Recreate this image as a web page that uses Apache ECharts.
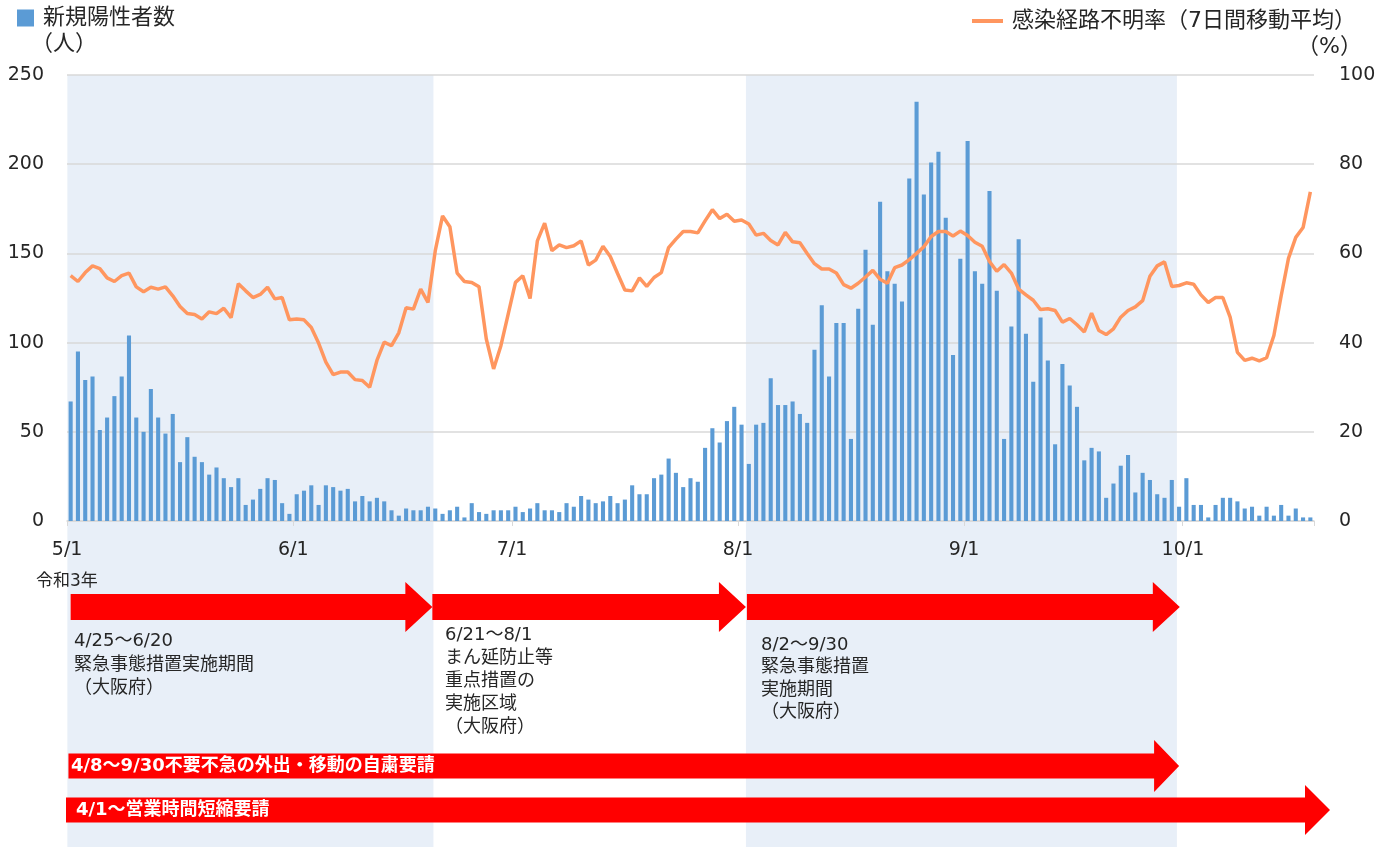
<!DOCTYPE html>
<html lang="ja">
<head>
<meta charset="utf-8">
<title>新規陽性者数と感染経路不明率</title>
<script src="https://cdn.jsdelivr.net/npm/echarts@6.0.0/dist/echarts.min.js"></script>
<style>
  html, body { margin: 0; padding: 0; background: #fff; }
  #chart { width: 1388px; height: 847px; }
</style>
</head>
<body>
<div id="chart"></div>
<script>
// 新規陽性者数（人）日別
const casesMay = [67, 95, 79, 81, 51, 58, 70, 81, 104, 58, 50, 74, 58, 49, 60, 33, 47, 36, 33, 26, 30, 24, 19, 24, 9, 12, 18, 24, 23, 10, 4];
const casesJun = [15, 17, 20, 9, 20, 19, 17, 18, 11, 14, 11, 13, 11, 6, 3, 7, 6, 6, 8, 7, 4, 6, 8, 2, 10, 5, 4, 6, 6, 6];
const casesJul = [8, 5, 7, 10, 6, 6, 5, 10, 8, 14, 12, 10, 11, 14, 10, 12, 20, 15, 15, 24, 26, 35, 27, 19, 24, 22, 41, 52, 44, 56, 64];
const casesAug = [54, 32, 54, 55, 80, 65, 65, 67, 60, 55, 96, 121, 81, 111, 111, 46, 119, 152, 110, 179, 140, 133, 123, 192, 235, 183, 201, 207, 170, 93, 147];
const casesSep = [213, 140, 133, 185, 129, 46, 109, 158, 105, 78, 114, 90, 43, 88, 76, 64, 34, 41, 39, 13, 21, 31, 37, 16, 27, 23, 15, 13, 23, 8];
const casesOct = [24, 9, 9, 2, 9, 13, 13, 11, 7, 8, 3, 8, 3, 9, 3, 7, 2, 2];

// 感染経路不明率（7日間移動平均, %）
const rateMay = [55.0, 53.7, 55.7, 57.2, 56.6, 54.5, 53.7, 55.0, 55.6, 52.5, 51.4, 52.4, 52.0, 52.5, 50.5, 48.1, 46.5, 46.3, 45.3, 46.9, 46.5, 47.7, 45.6, 53.2, 51.6, 50.1, 50.8, 52.4, 49.8, 50.1, 45.1];
const rateJun = [45.3, 45.1, 43.4, 39.9, 35.6, 32.8, 33.4, 33.4, 31.7, 31.5, 30.0, 36.0, 40.1, 39.3, 42.2, 47.8, 47.5, 52.0, 49.0, 60.6, 68.4, 66.0, 55.6, 53.7, 53.5, 52.5, 40.8, 34.1, 39.3, 46.4];
const rateJul = [53.5, 55.0, 49.9, 62.8, 66.8, 60.6, 61.9, 61.3, 61.7, 62.8, 57.4, 58.5, 61.6, 59.3, 55.5, 51.8, 51.6, 54.5, 52.6, 54.6, 55.7, 61.3, 63.2, 64.9, 64.9, 64.6, 67.3, 69.8, 67.8, 68.8, 67.2];
const rateAug = [67.5, 66.6, 64.1, 64.5, 62.9, 61.9, 64.7, 62.6, 62.4, 60.0, 57.7, 56.5, 56.5, 55.6, 53.0, 52.2, 53.3, 54.7, 56.2, 54.2, 53.3, 56.8, 57.4, 58.6, 60.0, 61.5, 63.8, 64.9, 64.9, 63.9, 65.0];
const rateSep = [64.0, 62.5, 61.6, 58.2, 56.0, 57.5, 55.6, 52.0, 50.7, 49.5, 47.4, 47.6, 47.2, 44.6, 45.4, 44.0, 42.4, 46.6, 42.7, 41.8, 43.1, 45.7, 47.2, 48.0, 49.4, 54.9, 57.2, 58.1, 52.6, 52.8];
const rateOct = [53.4, 53.1, 50.7, 49.0, 50.1, 50.1, 45.7, 37.8, 36.0, 36.5, 35.9, 36.6, 41.6, 50.5, 58.9, 63.6, 65.8, 73.8];

// 日付（令和3年5/1〜10/18）
const months = [5, 6, 7, 8, 9, 10];
const daysInMonth = [31, 30, 31, 31, 30, 18];
const tickLabels = ['5/1', '6/1', '7/1', '8/1', '9/1', '10/1'];

const dates = [];
months.forEach((m, i) => {
  for (let d = 1; d <= daysInMonth[i]; d++) dates.push(m + '/' + d);
});
const cases = [].concat(casesMay, casesJun, casesJul, casesAug, casesSep, casesOct);
const rate = [].concat(rateMay, rateJun, rateJul, rateAug, rateSep, rateOct);

const FONT = '"DejaVu Sans", "Noto Sans CJK JP", sans-serif';
const TEXT = '#262626';
const GRID = '#d9d9d9';
const BAR = '#5b9bd5';
const LINE = '#ff965f';
const BAND = '#e8eff8';
const RED = '#ff0000';

const isTick = (i) => tickLabels.indexOf(dates[i]) >= 0;

const option = {
  animation: false,
  textStyle: { fontFamily: FONT, color: TEXT },
  grid: { left: 67, right: 74, top: 75, bottom: 326, containLabel: false },
  legend: [
    {
      data: ['新規陽性者数'],
      left: 17, top: 7, padding: 0,
      icon: 'rect', itemWidth: 17, itemHeight: 17,
      textStyle: { fontSize: 22, color: TEXT, fontFamily: FONT, padding: [0, 0, 0, 4] }
    },
    {
      data: ['感染経路不明率（7日間移動平均）'],
      left: 972, top: 10, padding: 0,
      icon: 'rect', itemWidth: 31, itemHeight: 4,
      textStyle: { fontSize: 22, color: TEXT, fontFamily: FONT, padding: [0, 0, 0, 4] }
    }
  ],
  xAxis: {
    type: 'category',
    data: dates,
    boundaryGap: true,
    axisLine: { lineStyle: { color: GRID, width: 1.5 } },
    axisTick: { show: true, interval: (i) => isTick(i), length: 5, lineStyle: { color: GRID } },
    axisLabel: {
      interval: (i) => isTick(i),
      fontSize: 19,
      color: TEXT,
      margin: 20,
      formatter: (v) => '{a|' + v + '}',
      rich: { a: { fontSize: 19, fontFamily: FONT, color: TEXT, padding: [0, 7, 0, 0] } }
    },
    splitLine: { show: false }
  },
  yAxis: [
    {
      type: 'value',
      min: 0, max: 250, interval: 50,
      axisLine: { show: false },
      axisTick: { show: false },
      axisLabel: { fontSize: 19, color: TEXT, margin: 23 },
      splitLine: { lineStyle: { color: GRID, width: 1.5 } }
    },
    {
      type: 'value',
      position: 'right',
      min: 0, max: 100, interval: 20,
      axisLine: { show: false },
      axisTick: { show: false },
      axisLabel: { fontSize: 19, color: TEXT, margin: 25 },
      splitLine: { show: false }
    }
  ],
  series: [
    {
      name: '新規陽性者数',
      type: 'bar',
      yAxisIndex: 0,
      data: cases,
      barWidth: '56%',
      itemStyle: { color: BAR }
    },
    {
      name: '感染経路不明率（7日間移動平均）',
      type: 'line',
      yAxisIndex: 1,
      data: rate,
      symbol: 'none',
      color: LINE,
      lineStyle: { color: LINE, width: 3.5 },
      z: 3
    }
  ]
};

const chart = echarts.init(document.getElementById('chart'));
chart.setOption(option);

// 期間の帯・矢印・注記（軸の位置から計算）
const px = (d) => chart.convertToPixel({ xAxisIndex: 0 }, d);
const py = (v) => chart.convertToPixel({ yAxisIndex: 0 }, v);
const bw = px(dates[1]) - px(dates[0]);
const plotTop = py(250);
const H = chart.getHeight();

function band(x1, x2) {
  return {
    type: 'rect', z: -10, silent: true,
    shape: { x: x1, y: plotTop, width: x2 - x1, height: H - plotTop },
    style: { fill: BAND }
  };
}

function arrow(x0, xt, cy, shaft, head, len) {
  const xh = xt - len;
  return {
    type: 'polygon', z: 5, silent: true,
    shape: {
      points: [[x0, cy - shaft], [xh, cy - shaft], [xh, cy - head], [xt, cy],
               [xh, cy + head], [xh, cy + shaft], [x0, cy + shaft]]
    },
    style: { fill: RED }
  };
}

function note(x, y, text, extra) {
  return {
    type: 'text', z: 6, silent: true, x: x, y: y,
    style: Object.assign({
      text: text,
      fontSize: 18,
      fontFamily: FONT,
      fill: TEXT,
      align: 'left',
      verticalAlign: 'top',
      lineHeight: 23.5
    }, extra || {})
  };
}

const a1End = px('6/20') - 0.4 * bw;
const a2End = px('8/2') - 0.4 * bw;
const a3End = px('9/30') + 0.1 * bw;

chart.setOption({
  graphic: [
    band(px('5/1') - 0.45 * bw, px('6/20') - 0.25 * bw),
    band(px('8/2') - 0.4 * bw, px('9/30') - 0.3 * bw),

    arrow(px('5/1'), a1End, 607, 13, 25, 27),
    arrow(a1End, a2End, 607, 13, 25, 27),
    arrow(a2End + 1, a3End, 607, 13, 25, 27),
    arrow(px('5/1') - 0.3 * bw, px('9/30'), 766, 12.5, 26, 25),
    arrow(67 - 1, 1330, 810, 12.5, 25, 25),

    note(36, 570, '令和3年', { fontSize: 17 }),
    note(74, 630, '4/25～6/20\n緊急事態措置実施期間\n（大阪府）'),
    note(445, 624, '6/21～8/1\nまん延防止等\n重点措置の\n実施区域\n（大阪府）', { lineHeight: 23 }),
    note(761, 634, '8/2～9/30\n緊急事態措置\n実施期間\n（大阪府）', { lineHeight: 22.5 }),

    note(71, 766, '4/8～9/30不要不急の外出・移動の自粛要請',
      { fill: '#fff', fontWeight: 'bold', fontSize: 18, verticalAlign: 'middle' }),
    note(76, 810, '4/1～営業時間短縮要請',
      { fill: '#fff', fontWeight: 'bold', fontSize: 18, verticalAlign: 'middle' }),

    note(31, 44, '（人）', { fontSize: 22, verticalAlign: 'middle' }),
    note(1362, 47, '（%）', { fontSize: 22, verticalAlign: 'middle', align: 'right' })
  ]
});
</script>
</body>
</html>
